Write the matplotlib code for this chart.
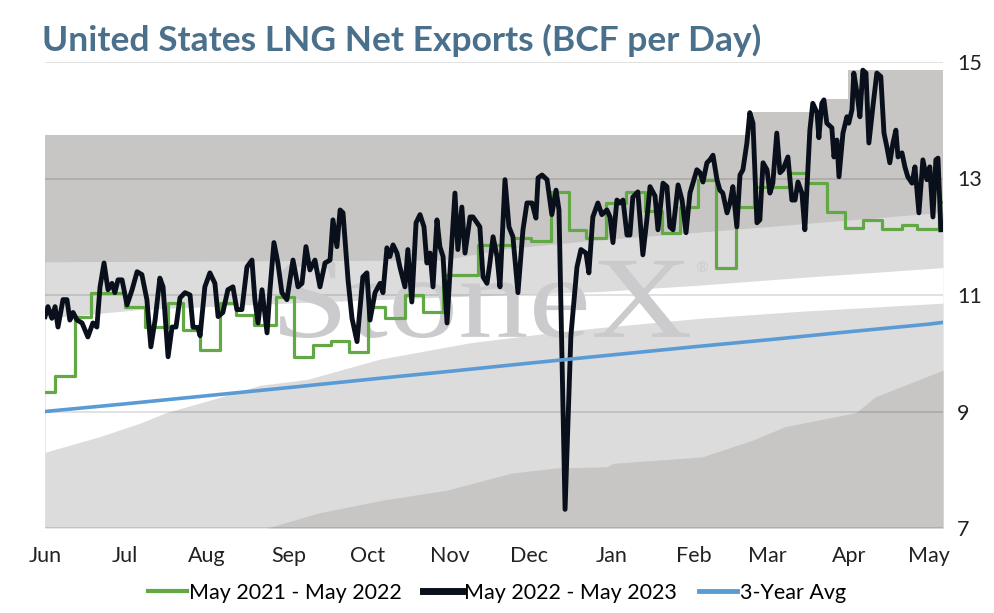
import numpy as np
import matplotlib
matplotlib.use("Agg")
import matplotlib.pyplot as plt
import pandas as pd
from matplotlib.textpath import TextPath
from matplotlib.patches import PathPatch
from matplotlib.font_manager import FontProperties
from matplotlib.transforms import Affine2D, IdentityTransform
from matplotlib.lines import Line2D

# ---- data (days counted from 1 Jun) ----
start = pd.Timestamp("2022-06-01")
x_end = 339.3

# May 2022 - May 2023 (black)
black_days = [0, 1.1, 2.6, 3.8, 4.9, 6.8, 8.3, 9.4, 10.6, 12.1, 14.0, 16.2, 18.1, 19.6, 20.8, 22.3,
              23.8, 25.3, 26.4, 27.6, 29.1, 31.0, 32.9, 34.8, 36.6, 38.5, 40.0, 41.6, 43.4, 44.6,
              46.5, 48.0, 49.5, 51.0, 52.9, 54.8, 55.9, 57.8, 58.6, 60.4, 62.3, 64.2, 65.4, 67.2,
              69.1, 71.0, 72.5, 74.4, 76.3, 78.2, 79.3, 80.5, 82.0, 83.9, 85.0, 86.5, 88.0, 89.5,
              91.4, 93.7, 95.6, 97.1, 98.6, 100.1, 102.0, 103.9, 105.8, 107.7, 108.8, 110.3, 111.5,
              112.6, 114.5, 116.0, 117.9, 120.1, 121.6, 122.8, 124.7, 126.6, 127.7, 129.2, 130.3,
              131.5, 133.0, 134.1, 136.0, 137.1, 138.6, 140.2, 141.7, 143.2, 144.3, 145.5, 146.6,
              148.1, 149.2, 150.4, 151.9, 153.0, 154.9, 156.0, 157.5, 158.7, 160.6, 161.7, 163.2,
              164.3, 165.5, 167.0, 168.1, 169.3, 170.8, 171.9, 173.8, 175.3, 176.8, 178.7, 180.6,
              182.1, 184.0, 185.5, 186.3, 187.8, 189.7, 191.5, 193.1, 194.2, 196.5, 198.7, 201.0,
              202.5, 204.4, 205.5, 207.0, 208.9, 210.4, 212.3, 213.5, 214.6, 216.1, 217.2, 218.4,
              219.9, 221.0, 222.1, 224.0, 225.9, 227.4, 228.6, 230.5, 231.6, 233.5, 235.0, 236.1,
              237.3, 239.2, 240.7, 242.2, 243.7, 244.8, 246.3, 247.5, 248.6, 250.1, 251.2, 252.4,
              253.9, 255.0, 256.1, 257.7, 258.8, 259.9, 261.4, 262.6, 263.7, 265.2, 266.3, 267.5,
              269.0, 270.1, 271.3, 272.8, 273.9, 275.0, 276.5, 277.7, 278.8, 280.7, 282.2, 283.4,
              284.5, 286.0, 287.1, 289.0, 290.1, 291.7, 292.4, 293.5, 294.3, 295.4, 297.3, 298.1,
              299.2, 300.0, 301.5, 303.0, 303.7, 304.9, 305.6, 306.8, 307.9, 309.0, 310.2, 311.3,
              312.8, 314.3, 315.8, 317.0, 318.1, 319.2, 320.4, 321.5, 322.3, 323.8, 324.9, 326.0,
              327.6, 328.7, 330.2, 331.7, 333.2, 334.3, 335.5, 336.6, 337.4, 338.5]
black_vals = [10.63, 10.8, 10.6, 10.8, 10.45, 10.92, 10.92, 10.57, 10.7, 10.57, 10.52, 10.28, 10.52,
              10.45, 11.14, 11.55, 11.09, 11.2, 11.04, 11.26, 11.26, 10.83, 11.09, 11.4, 11.35,
              10.92, 10.11, 10.57, 11.29, 11.14, 9.94, 10.45, 10.45, 10.95, 11.04, 11.0, 10.45,
              10.44, 10.3, 11.14, 11.38, 11.2, 10.63, 10.7, 11.09, 11.14, 10.75, 10.75, 11.48,
              11.6, 10.92, 10.52, 11.09, 10.35, 11.09, 11.9, 11.55, 11.04, 10.92, 11.6, 11.14,
              11.2, 11.83, 11.43, 11.6, 11.14, 11.55, 11.6, 12.29, 11.83, 12.46, 12.41, 11.26,
              10.6, 10.2, 11.31, 11.38, 10.57, 11.04, 11.2, 11.04, 11.81, 11.66, 11.86, 11.72,
              11.48, 11.14, 11.78, 10.88, 12.24, 12.38, 12.17, 11.55, 11.72, 11.14, 12.29, 11.83,
              11.66, 10.52, 11.38, 12.75, 11.78, 12.51, 11.72, 12.34, 12.34, 12.24, 12.17, 11.31,
              11.2, 11.55, 12.0, 11.66, 11.14, 12.98, 12.17, 12.0, 11.04, 12.12, 12.58, 12.58,
              12.32, 13.01, 13.06, 12.98, 12.38, 12.8, 12.46, 7.32, 10.3, 11.48, 11.78, 11.72,
              11.38, 12.34, 12.58, 12.38, 12.46, 12.34, 11.9, 12.63, 12.58, 12.63, 12.03, 12.03,
              12.68, 12.77, 11.69, 12.29, 12.86, 12.7, 12.12, 12.92, 12.86, 12.17, 12.12, 12.89,
              12.63, 12.07, 12.75, 12.92, 13.15, 13.1, 12.94, 13.27, 13.32, 13.4, 12.98, 12.8,
              12.75, 12.41, 12.58, 12.86, 12.17, 13.06, 13.15, 13.61, 14.13, 13.95, 12.24, 12.29,
              13.27, 13.15, 12.75, 12.92, 13.78, 13.1, 13.15, 13.37, 12.63, 12.63, 12.94, 12.75,
              12.12, 13.83, 14.29, 14.13, 13.7, 14.29, 14.35, 13.95, 13.87, 13.37, 13.66, 13.03,
              13.78, 14.06, 13.95, 14.18, 14.81, 14.47, 14.06, 14.86, 14.81, 13.61, 14.23, 14.81,
              14.75, 13.78, 13.54, 13.27, 13.61, 13.83, 13.37, 13.44, 13.2, 13.03, 12.92, 13.2,
              12.41, 13.32, 12.98, 13.2, 12.34, 13.32, 13.35, 12.12]

# May 2021 - May 2022 (green, weekly steps)
green_days = [0, 3.8, 11.3, 17.4, 30.2, 37.8, 46.5, 52.1, 58.6, 66.1, 72.2, 79.0, 87.3, 94.1,
              101.2, 108.1, 114.9, 122.0, 128.5, 136.0, 142.8, 150.4, 163.6, 176.8, 183.6, 191.2,
              198.0, 204.4, 211.9, 219.5, 226.7, 233.1, 239.9, 246.7, 253.5, 261.0, 267.9, 281.1,
              287.9, 295.4, 302.2, 309.0, 316.2, 323.8, 329.4, 337.7, 339.3]
green_vals = [9.34, 9.61, 10.63, 11.04, 10.8, 10.45, 10.86, 10.4, 10.06, 10.86, 10.66, 10.49,
              10.97, 9.93, 10.15, 10.21, 10.02, 10.8, 10.6, 11.0, 10.7, 11.34, 11.86, 11.98, 11.93,
              12.77, 12.12, 11.98, 12.58, 12.77, 12.45, 12.07, 12.51, 12.98, 11.47, 12.51, 12.85,
              13.1, 12.92, 12.43, 12.15, 12.29, 12.13, 12.2, 12.13, 12.6, 12.6]

# 3-Year Avg (blue)
avg_days = [0, 30, 61, 92, 122, 153, 183, 214, 245, 273, 304, 334, 339.3]
avg_vals = [9.0, 9.13, 9.27, 9.41, 9.55, 9.69, 9.83, 9.97, 10.11, 10.23, 10.37, 10.5, 10.53]

# range bands
top_days = [0, 265.6, 294.7, 303.4, 339.3]
top_vals = [13.75, 14.15, 14.36, 14.86, 14.86]
hi_days = [0, 150, 175, 210, 247.5, 285.2, 339.3]
hi_vals = [11.57, 11.6, 11.8, 11.95, 12.08, 12.22, 12.42]
mid_days = [0, 35.9, 96.3, 160.6, 209.7, 247.5, 285.2, 339.3]
mid_vals = [10.6, 10.75, 10.87, 10.98, 11.06, 11.17, 11.3, 11.47]
lo_days = [0, 20.8, 35.9, 45.7, 62.7, 81.2, 99, 126.6, 160.6, 190.8, 209.7, 247.5, 285.2, 339.3]
lo_vals = [8.3, 8.57, 8.8, 8.98, 9.2, 9.45, 9.55, 9.9, 10.18, 10.35, 10.44, 10.6, 10.72, 10.86]
min_days = [0, 84, 103.5, 127.7, 151.9, 176, 193, 212.3, 214.6, 248.2, 267.5, 279.6, 306.4, 313.6, 339.3]
min_vals = [7.0, 7.0, 7.26, 7.48, 7.65, 7.94, 8.03, 8.05, 8.11, 8.22, 8.51, 8.74, 8.98, 9.25, 9.71]

months = pd.date_range("2022-06-01", "2023-05-01", freq="MS")
month_days = (months - start).days
month_labels = months.strftime("%b")

DARK = "#c7c6c4"
LIGHT = "#dcdcdc"

plt.rcParams["font.family"] = ["Lato", "DejaVu Sans"]

fig = plt.figure(figsize=(9.94, 6.13), dpi=100)
ax = fig.add_axes([45 / 994, 1 - 528 / 613, 898 / 994, 466 / 613])

# bands, painted on top of each other
ax.fill_between(top_days, 7, top_vals, step="post", color=DARK, lw=0, zorder=1)
ax.fill_between(hi_days, 7, hi_vals, color=LIGHT, lw=0, zorder=1)
ax.fill_between(mid_days, 7, mid_vals, color="white", lw=0, zorder=1)
ax.fill_between(lo_days, 7, lo_vals, color=LIGHT, lw=0, zorder=1)
ax.fill_between(min_days, 7, min_vals, color=DARK, lw=0, zorder=1)

# watermark
tp = TextPath((0, 0), "StoneX", size=100, prop=FontProperties(family="Liberation Serif"))
bb = tp.get_extents()
wm = Affine2D().translate(-bb.x0, -bb.y0).scale(410 / bb.width, 78 / bb.height).translate(280, 613 - 338)
ax.add_artist(PathPatch(tp, transform=wm, fc="#cbcbce", ec="none", zorder=1.7))
ax.text(695, 613 - 272, "®", transform=IdentityTransform(), fontsize=11,
        family="DejaVu Serif", color="#cbcbce", zorder=1.7)

ax.plot(green_days, green_vals, drawstyle="steps-post", color="#62a844", lw=2.3, zorder=3)
ax.plot(black_days, black_vals, color="#0a101b", lw=3.5, zorder=4, solid_joinstyle="round")
ax.plot(avg_days, avg_vals, color="#5b9bd5", lw=2.6, zorder=5)

ax.set_xlim(0, x_end)
ax.set_ylim(7, 15)
ax.set_yticks([7, 9, 11, 13, 15])
ax.yaxis.tick_right()
ax.set_xticks(month_days)
ax.set_xticklabels(month_labels)
ax.tick_params(axis="both", length=0, labelsize=15.5, colors="#222222")
ax.tick_params(axis="x", pad=13)
ax.tick_params(axis="y", pad=10)
ax.grid(axis="y", color="black", alpha=0.13, lw=1.3)
for s in ax.spines.values():
    s.set_visible(False)

fig.text(42 / 994, 1 - 40 / 613, "United States LNG Net Exports (BCF per Day)",
         fontsize=25.5, fontweight="bold", color="#4a708b", va="center", ha="left")

handles = [Line2D([], [], color="#62a844", lw=3),
           Line2D([], [], color="#0a101b", lw=5),
           Line2D([], [], color="#5b9bd5", lw=3.5)]
fig.legend(handles, ["May 2021 - May 2022", "May 2022 - May 2023", "3-Year Avg"],
           loc="center", bbox_to_anchor=(0.5, 1 - 593 / 613), ncol=3, frameon=False,
           fontsize=15.5, handlelength=1.8, handletextpad=0.1, columnspacing=1.0)

fig.savefig("out.png", dpi=100)
